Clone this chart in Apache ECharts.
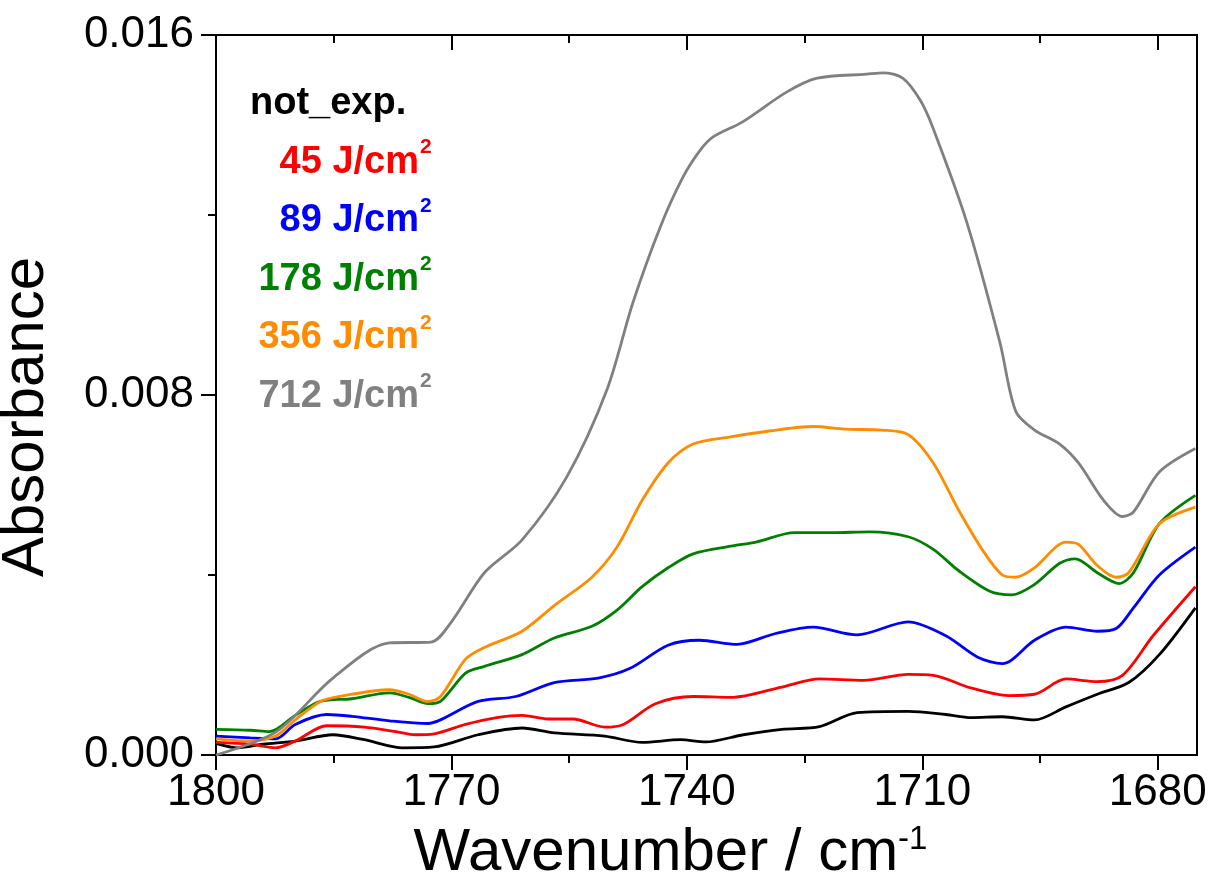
<!DOCTYPE html>
<html>
<head>
<meta charset="utf-8">
<title>Absorbance vs wavenumber</title>
<script src="https://cdn.jsdelivr.net/npm/echarts@6/dist/echarts.min.js"></script>
<style>
  html, body { margin: 0; padding: 0; background: #fff; }
  #chart { width: 1211px; height: 891px; }
</style>
</head>
<body>
<div id="chart"></div>
<script>
// axis ticks (wavenumber, cm-1)
const labelTicks = [1680, 1710, 1740, 1770, 1800];
const minorTicks = [1680, 1695, 1710, 1725, 1740, 1755, 1770, 1785, 1800];

// spectra, [wavenumber, absorbance]
const notExp = [[1800,0.00026],[1797.2,0.00016],[1794.0,0.00024],[1789.9,0.00031],[1785.1,0.00045],[1781.1,0.00034],[1776.2,0.00016],[1772.2,0.00018],[1766.6,0.00045],[1761.0,0.00060],[1756.9,0.00049],[1750.5,0.00042],[1745.7,0.00028],[1740.8,0.00034],[1737.6,0.00029],[1732.8,0.00045],[1727.9,0.00057],[1723.1,0.00063],[1718.3,0.00094],[1711.8,0.00097],[1707.0,0.00090],[1703.8,0.00083],[1699.8,0.00085],[1695.7,0.00078],[1691.7,0.00107],[1687.7,0.00135],[1683.7,0.00161],[1679.8,0.00223],[1675.2,0.00327]];
const dose45 = [[1800,0.00028],[1795.6,0.00024],[1792.4,0.00016],[1789.9,0.00031],[1785.9,0.00065],[1781.1,0.00062],[1777.1,0.00052],[1774.6,0.00045],[1772.2,0.00047],[1768.2,0.00068],[1764.2,0.00083],[1761.0,0.00088],[1757.7,0.00080],[1754.5,0.00080],[1750.5,0.00062],[1748.1,0.00068],[1744.0,0.00114],[1739.2,0.00130],[1734.4,0.00128],[1727.9,0.00151],[1723.1,0.00169],[1717.5,0.00166],[1711.8,0.00179],[1708.6,0.00177],[1703.8,0.00149],[1699.0,0.00132],[1695.7,0.00135],[1691.7,0.00169],[1687.7,0.00163],[1684.5,0.00177],[1680.6,0.00265],[1675.2,0.00374]];
const dose89 = [[1800,0.00042],[1795.6,0.00038],[1792.4,0.00036],[1789.9,0.00068],[1785.9,0.00090],[1782.7,0.00086],[1777.9,0.00076],[1773.0,0.00070],[1771.4,0.00078],[1766.6,0.00119],[1761.8,0.00130],[1756.9,0.00161],[1751.3,0.00171],[1747.3,0.00192],[1742.4,0.00244],[1738.4,0.00255],[1733.6,0.00246],[1728.7,0.00270],[1723.9,0.00284],[1718.3,0.00267],[1711.8,0.00296],[1707.0,0.00265],[1703.0,0.00218],[1699.8,0.00203],[1695.7,0.00255],[1691.7,0.00284],[1687.7,0.00275],[1685.3,0.00281],[1683.1,0.00327],[1679.8,0.00400],[1675.2,0.00462]];
const dose178 = [[1800,0.00057],[1795.6,0.00055],[1793.2,0.00052],[1789.9,0.00088],[1786.7,0.00119],[1782.7,0.00125],[1777.9,0.00138],[1775.4,0.00128],[1773.0,0.00114],[1771.4,0.00119],[1768.2,0.00182],[1765.8,0.00197],[1761.0,0.00223],[1756.9,0.00260],[1752.1,0.00286],[1748.9,0.00322],[1745.7,0.00374],[1742.4,0.00416],[1739.2,0.00447],[1734.4,0.00464],[1731.2,0.00473],[1726.3,0.00494],[1721.5,0.00494],[1716.7,0.00496],[1711.8,0.00485],[1708.6,0.00457],[1705.4,0.00410],[1701.4,0.00364],[1698.6,0.00356],[1695.7,0.00379],[1692.5,0.00426],[1690.5,0.00436],[1687.7,0.00405],[1684.9,0.00381],[1683.1,0.00405],[1679.8,0.00514],[1675.2,0.00577]];
const dose356 = [[1800,0.00036],[1795.6,0.00031],[1792.4,0.00042],[1789.9,0.00078],[1786.7,0.00119],[1784.3,0.00130],[1777.9,0.00145],[1775.4,0.00135],[1773.0,0.00119],[1771.4,0.00130],[1768.2,0.00213],[1765.8,0.00239],[1761.0,0.00275],[1756.9,0.00332],[1752.1,0.00395],[1748.9,0.00462],[1745.7,0.00566],[1742.4,0.00649],[1739.2,0.00691],[1734.4,0.00707],[1729.5,0.00720],[1723.9,0.00730],[1719.9,0.00724],[1715.1,0.00722],[1711.8,0.00712],[1708.6,0.00649],[1705.4,0.00545],[1702.2,0.00452],[1699.8,0.00400],[1698.1,0.00395],[1695.7,0.00416],[1691.7,0.00473],[1690.1,0.00468],[1687.7,0.00421],[1685.3,0.00395],[1683.7,0.00405],[1679.8,0.00514],[1675.2,0.00551]];
const dose712 = [[1800,0.00000],[1792.3,0.00052],[1785.1,0.00171],[1777.9,0.00249],[1772.6,0.00251],[1770.0,0.00296],[1765.8,0.00405],[1761.0,0.00478],[1755.3,0.00618],[1750.2,0.00811],[1746.9,0.01004],[1743.4,0.01173],[1740.5,0.01284],[1738.3,0.01344],[1736.7,0.01373],[1732.9,0.01407],[1727.3,0.01473],[1723.4,0.01504],[1717.1,0.01513],[1715.0,0.01516],[1712.5,0.01504],[1710.3,0.01456],[1708.7,0.01396],[1704.3,0.01182],[1700.1,0.00916],[1698.1,0.00764],[1695.7,0.00722],[1692.5,0.00691],[1690.1,0.00649],[1686.9,0.00566],[1684.5,0.00530],[1683.1,0.00540],[1679.8,0.00629],[1675.2,0.00681]];

const FONT = '"Liberation Sans", Arial, sans-serif';

const curves = [
  { name: 'not_exp.', data: notExp, color: '#000000', label: 'not_exp.', unit: false },
  { name: '45 J/cm2', data: dose45, color: '#ff0000', label: '45 J/cm', unit: true },
  { name: '89 J/cm2', data: dose89, color: '#0000ff', label: '89 J/cm', unit: true },
  { name: '178 J/cm2', data: dose178, color: '#008000', label: '178 J/cm', unit: true },
  { name: '356 J/cm2', data: dose356, color: '#ff8c00', label: '356 J/cm', unit: true },
  { name: '712 J/cm2', data: dose712, color: '#808080', label: '712 J/cm', unit: true }
];

const chart = echarts.init(document.getElementById('chart'));

const baseX = {
  type: 'value', min: 1675, max: 1800, inverse: true,
  splitLine: { show: false },
  axisLine: { show: true, lineStyle: { color: '#000', width: 2 } }
};

// legend drawn as text; dose lines right-aligned, superscript "2" as its own text
const legendTexts = [];
curves.forEach((c, i) => {
  const yc = 104 + i * 58.5;
  if (!c.unit) {
    legendTexts.push({
      type: 'text', x: 250, y: yc,
      style: { text: c.label, fill: c.color, font: 'bold 38px ' + FONT, align: 'left', verticalAlign: 'middle' }
    });
    return;
  }
  legendTexts.push({
    type: 'text', x: 419, y: yc,
    style: { text: c.label, fill: c.color, font: 'bold 38px ' + FONT, align: 'right', verticalAlign: 'middle' }
  });
  legendTexts.push({
    type: 'text', x: 420, y: yc - 15,
    style: { text: '2', fill: c.color, font: 'bold 21px ' + FONT, align: 'left', verticalAlign: 'middle' }
  });
});

chart.setOption({
  backgroundColor: '#fff',
  animation: false,
  grid: { left: 216, right: 14, top: 35, bottom: 136, containLabel: false, outerBoundsMode: 'none' },
  xAxis: [
    Object.assign({}, baseX, {
      position: 'bottom',
      name: 'Wavenumber / cm{sup|-1}',
      nameLocation: 'middle',
      nameGap: 68,
      nameTextStyle: {
        fontSize: 60, fontFamily: FONT, color: '#000', padding: [0, 72, 0, 0],
        rich: { sup: { fontSize: 33, fontFamily: FONT, color: '#000', verticalAlign: 'top' } }
      },
      axisTick: { show: true, inside: false, length: 15, lineStyle: { width: 2, color: '#000' }, customValues: labelTicks },
      axisLabel: { show: true, fontSize: 44, fontFamily: FONT, color: '#000', margin: 16, customValues: labelTicks, formatter: v => String(v) }
    }),
    Object.assign({}, baseX, {
      position: 'bottom',
      axisTick: { show: true, inside: false, length: 8, lineStyle: { width: 2, color: '#000' }, customValues: minorTicks },
      axisLabel: { show: false }
    }),
    Object.assign({}, baseX, {
      position: 'top',
      axisTick: { show: true, inside: true, length: 15, lineStyle: { width: 2, color: '#000' }, customValues: labelTicks },
      axisLabel: { show: false }
    }),
    Object.assign({}, baseX, {
      position: 'top',
      axisTick: { show: true, inside: true, length: 8, lineStyle: { width: 2, color: '#000' }, customValues: minorTicks },
      axisLabel: { show: false }
    })
  ],
  yAxis: [
    {
      type: 'value', min: 0, max: 0.016, interval: 0.008, position: 'left',
      name: 'Absorbance',
      nameLocation: 'middle',
      nameGap: 160,
      nameTextStyle: { fontSize: 60, fontFamily: FONT, color: '#000', padding: [0, 44, 0, 0] },
      splitLine: { show: false },
      axisLine: { show: true, lineStyle: { color: '#000', width: 2 } },
      axisTick: { show: true, inside: false, length: 15, lineStyle: { width: 2, color: '#000' } },
      minorTick: { show: true, splitNumber: 2, length: 8, lineStyle: { width: 2, color: '#000' } },
      axisLabel: { fontSize: 44, fontFamily: FONT, color: '#000', margin: 22, formatter: v => v.toFixed(3) }
    },
    {
      type: 'value', min: 0, max: 0.016, position: 'right',
      splitLine: { show: false },
      axisLine: { show: true, lineStyle: { color: '#000', width: 2 } },
      axisTick: { show: false },
      axisLabel: { show: false }
    }
  ],
  graphic: legendTexts,
  series: curves.map(c => ({
    name: c.name,
    type: 'line',
    xAxisIndex: 0,
    yAxisIndex: 0,
    data: c.data,
    smooth: 0.3,
    symbol: 'none',
    lineStyle: { color: c.color, width: 2.8 },
    itemStyle: { color: c.color }
  }))
});
</script>
</body>
</html>
